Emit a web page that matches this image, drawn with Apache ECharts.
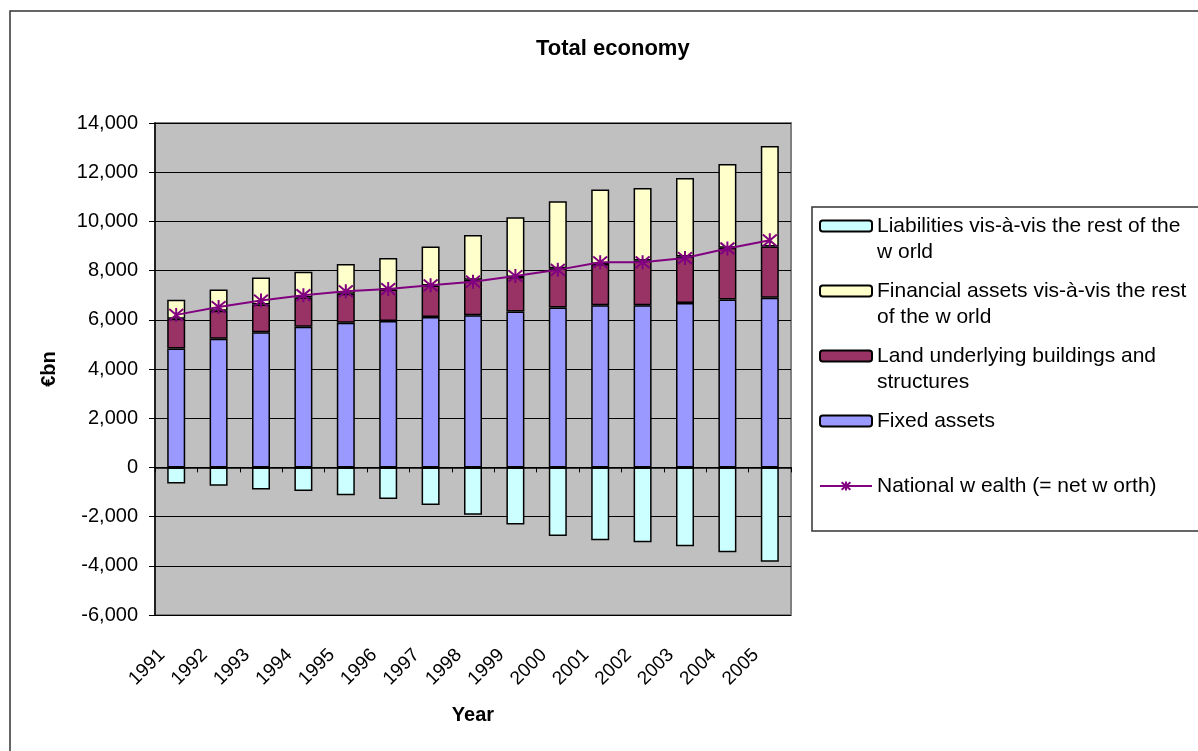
<!DOCTYPE html>
<html>
<head>
<meta charset="utf-8">
<script src="https://cdn.jsdelivr.net/npm/echarts@6/dist/echarts.min.js"></script>
<style>
  html, body { margin: 0; padding: 0; background: #fff; }
  #chart { width: 1198px; height: 751px; }
</style>
</head>
<body>
<div id="chart"></div>
<script>
// values, € bn
var years = ['1991', '1992', '1993', '1994', '1995', '1996', '1997', '1998',
             '1999', '2000', '2001', '2002', '2003', '2004', '2005'];
var fixedAssets = [4830, 5230, 5490, 5720, 5880, 5950, 6110, 6180, 6340, 6500, 6590, 6590, 6680, 6830, 6900];
var landUnder = [1215, 1140, 1135, 1190, 1180, 1285, 1285, 1445, 1395, 1600, 1675, 1820, 1895, 2095, 2080];
var financialAssets = [770, 865, 1095, 1040, 1205, 1275, 1585, 1825, 2435, 2720, 3030, 2950, 3190, 3410, 4085];
var liabilities = [-650, -745, -895, -960, -1135, -1285, -1530, -1920, -2325, -2785, -2960, -3045, -3205, -3450, -3840];
var nationalWealth = [6200, 6520, 6780, 7000, 7160, 7250, 7400, 7550, 7780, 8030, 8340, 8340, 8510, 8900, 9230];

var nLiab = 'Liabilities vis-à-vis the rest of the w orld';
var nFin = 'Financial assets vis-à-vis the rest of the w orld';
var nLand = 'Land underlying buildings and structures';
var nFixed = 'Fixed assets';
var nWealth = 'National w ealth (= net w orth)';

// legend wrapping; the empty lines keep the icon level with the first line
var legendText = {};
legendText[nLiab] = '\nLiabilities vis-à-vis the rest of the\nw orld';
legendText[nFin] = '\nFinancial assets vis-à-vis the rest\nof the w orld';
legendText[nLand] = '\nLand underlying buildings and\nstructures';
legendText[nFixed] = '\nFixed assets\n ';
legendText[nWealth] = '\nNational w ealth (= net w orth)\n ';

var font = 'Arial, "Liberation Sans", sans-serif';

function barSeries(name, color, data) {
  return {
    name: name,
    type: 'bar',
    stack: 'total',
    barWidth: 18,
    data: data,
    itemStyle: { color: color, borderColor: '#000', borderWidth: 1.5 }
  };
}

var chart = echarts.init(document.getElementById('chart'));

var option = {
  animation: false,
  backgroundColor: '#fff',
  textStyle: { fontFamily: font },
  title: {
    text: 'Total economy',
    left: 531,
    top: 33,
    textStyle: { fontFamily: font, fontSize: 22, fontWeight: 'bold', color: '#000' }
  },
  graphic: [
    { type: 'rect', shape: { x: 10, y: 11, width: 1400, height: 900 },
      style: { fill: 'none', stroke: '#333', lineWidth: 1.5 }, silent: true },
    { type: 'rect', shape: { x: 812, y: 207, width: 500, height: 324 },
      style: { fill: 'none', stroke: '#333', lineWidth: 1.5 }, silent: true }
  ],
  legend: {
    orient: 'vertical',
    left: 819,
    top: 187,
    padding: 0,
    itemGap: -13,
    itemWidth: 52,
    itemHeight: 11,
    selectedMode: false,
    data: [nLiab, nFin, nLand, nFixed, nWealth],
    formatter: function (name) { return legendText[name]; },
    textStyle: { fontFamily: font, fontSize: 21, lineHeight: 26, color: '#000' }
  },
  grid: {
    left: 155, top: 123, right: 407, bottom: 136,
    show: true,
    backgroundColor: '#c0c0c0',
    borderColor: '#808080',
    borderWidth: 2,
    outerBoundsMode: 'none'
  },
  xAxis: [
    {
      type: 'category',
      data: years,
      axisLine: { onZero: true, lineStyle: { color: '#000', width: 1.5 } },
      axisTick: { show: true, length: 5, lineStyle: { color: '#000' } },
      axisLabel: { show: false }
    },
    {
      type: 'category',
      data: years,
      position: 'bottom',
      axisLine: { show: false, onZero: false },
      axisTick: { show: false },
      axisLabel: { rotate: 45, margin: 23, padding: [0, 20, 0, 0], fontSize: 19, color: '#000', fontFamily: font },
      name: 'Year',
      nameLocation: 'middle',
      nameGap: 90,
      nameTextStyle: { fontSize: 20, fontWeight: 'bold', color: '#000', fontFamily: font }
    }
  ],
  yAxis: {
    type: 'value',
    min: -6000,
    max: 14000,
    interval: 2000,
    name: '€bn',
    nameLocation: 'middle',
    nameGap: 96,
    nameTextStyle: { fontSize: 20, fontWeight: 'bold', color: '#000', fontFamily: font },
    axisLine: { show: true, lineStyle: { color: '#000', width: 1.5 } },
    axisTick: { show: true, length: 6, lineStyle: { color: '#000' } },
    axisLabel: { fontSize: 20, color: '#000', margin: 17, fontFamily: font },
    splitLine: { show: true, lineStyle: { color: '#000', width: 1 } }
  },
  series: [
    barSeries(nFixed, '#9999ff', fixedAssets),
    barSeries(nLand, '#993366', landUnder),
    barSeries(nFin, '#ffffcc', financialAssets),
    barSeries(nLiab, '#ccffff', liabilities),
    {
      name: nWealth,
      type: 'line',
      data: nationalWealth,
      z: 5,
      symbol: 'path://M0,0L10,10M10,0L0,10M5,-1L5,11',
      symbolSize: 14,
      lineStyle: { color: '#800080', width: 2 },
      itemStyle: { color: '#800080', borderColor: '#800080', borderWidth: 2 }
    }
  ]
};

chart.setOption(option);
</script>
</body>
</html>
